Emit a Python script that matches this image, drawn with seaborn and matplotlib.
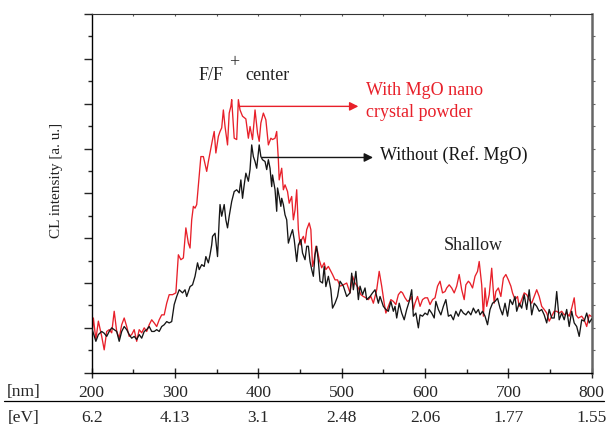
import numpy as np
import pandas as pd
import matplotlib
matplotlib.use("Agg")
import matplotlib.pyplot as plt
import matplotlib.transforms as mtransforms
from matplotlib.lines import Line2D
from matplotlib.ticker import MultipleLocator
import seaborn as sns

# ---------------- data ----------------
nm_ticks = [200, 300, 400, 500, 600, 700, 800]
ev_labels = ["6.2", "4.13", "3.1", "2.48", "2.06", "1.77", "1.55"]

black_nm = [200, 205, 208, 212, 215, 218, 221, 224, 227, 230, 233, 236, 239, 242, 245, 248, 251, 254, 257, 260,
            263, 266, 269, 272, 275, 278, 281, 284, 287, 290, 293, 296, 299, 302, 305, 309, 312, 314, 318, 321,
            324, 327, 329, 332, 335, 337, 340, 342, 344, 345, 348, 351, 353, 354, 356, 359, 361, 363, 365, 368,
            371, 374, 377, 379, 381, 383, 385, 388, 390, 392, 394, 396, 398, 401, 403, 405, 408, 410, 412, 414,
            416, 417, 420, 422, 423, 425, 427, 428, 430, 432, 434, 436, 439, 441, 443, 446, 448, 451, 453, 456,
            458, 460, 462, 464, 466, 468, 470, 472, 474, 477, 479, 481, 484, 487, 489, 492, 495, 498, 502, 506,
            510, 512, 514, 517, 520, 522, 525, 528, 530, 534, 537, 540, 544, 546, 550, 553, 556, 559, 562, 564,
            566, 569, 572, 575, 578, 581, 584, 586, 589, 592, 594, 597, 600, 603, 605, 608, 611, 613, 616, 619,
            622, 625, 628, 631, 634, 637, 640, 643, 646, 649, 652, 655, 658, 661, 664, 666, 669, 672, 675, 678,
            681, 684, 687, 690, 693, 696, 699, 702, 705, 708, 710, 713, 716, 719, 722, 725, 728, 731, 734, 737,
            740, 743, 746, 749, 752, 755, 758, 761, 764, 767, 770, 773, 776, 779, 782, 785, 788, 791, 794, 797,
            800]
black_int = [1.00, 0.70, 0.85, 0.92, 0.88, 0.81, 0.92, 1.00, 0.96, 0.92, 0.70, 0.92, 1.03, 0.96, 0.85, 0.77, 0.81, 0.74, 0.85, 0.77,
             0.92, 0.96, 1.03, 0.92, 0.92, 0.96, 0.92, 1.03, 1.07, 1.14, 1.11, 1.14, 1.52, 1.70, 1.85, 1.78, 1.85, 1.70, 1.92, 1.96,
             2.15, 2.45, 2.30, 2.41, 2.37, 2.59, 2.45, 2.63, 2.85, 3.04, 3.11, 2.59, 3.41, 3.75, 3.49, 3.75, 3.41, 3.23, 3.49, 3.82,
             4.04, 4.08, 4.01, 4.30, 3.89, 4.19, 4.45, 4.27, 4.53, 5.08, 4.82, 4.71, 4.56, 5.08, 4.82, 4.75, 4.71, 4.53, 4.75, 4.56,
             4.15, 4.41, 4.08, 3.60, 4.12, 3.93, 3.71, 3.89, 3.75, 3.52, 3.41, 2.89, 3.08, 3.19, 2.97, 2.48, 2.85, 2.97, 2.67, 2.52,
             2.82, 2.82, 2.48, 2.30, 2.15, 2.63, 2.82, 2.48, 2.04, 2.00, 2.37, 1.92, 2.15, 1.85, 1.44, 1.55, 1.70, 2.04, 1.93, 1.70,
             1.78, 2.22, 1.85, 2.26, 1.63, 1.93, 1.74, 1.89, 1.63, 1.70, 1.78, 1.85, 1.55, 1.70, 1.48, 1.41, 1.37, 1.59, 1.37, 1.48,
             1.22, 1.55, 1.33, 1.18, 1.41, 1.59, 1.85, 1.26, 1.33, 1.00, 1.29, 1.26, 1.33, 1.29, 1.41, 1.33, 1.22, 1.59, 1.41, 1.29,
             1.48, 1.63, 1.26, 1.29, 1.18, 1.37, 1.26, 1.41, 1.33, 1.29, 1.37, 1.29, 1.44, 1.33, 1.41, 1.29, 1.37, 1.26, 1.07, 1.41,
             1.55, 1.59, 1.66, 1.44, 1.29, 1.55, 1.26, 1.63, 1.52, 1.70, 1.37, 1.55, 1.44, 1.74, 1.41, 1.85, 1.29, 1.55, 1.48, 1.37,
             1.41, 1.29, 1.11, 1.41, 1.22, 1.22, 1.81, 1.18, 1.33, 1.18, 1.41, 1.03, 1.37, 1.11, 1.03, 0.81, 1.18, 1.15, 1.33, 1.11,
             1.20]

red_nm = [200, 202, 205, 208, 212, 215, 218, 221, 224, 227, 230, 233, 236, 239, 242, 245, 248, 251, 254, 257,
          260, 263, 266, 269, 272, 275, 278, 281, 284, 287, 290, 293, 297, 301, 304, 307, 310, 313, 316, 318,
          320, 322, 324, 326, 329, 331, 334, 338, 340, 343, 345, 347, 349, 352, 354, 356, 358, 360, 363, 365,
          367, 368, 371, 374, 376, 378, 381, 385, 388, 390, 393, 396, 399, 401, 403, 406, 409, 412, 415, 417,
          420, 422, 424, 425, 428, 430, 432, 435, 437, 440, 442, 444, 446, 448, 450, 452, 454, 456, 458, 461,
          463, 465, 467, 469, 471, 473, 476, 479, 481, 484, 487, 489, 492, 495, 498, 502, 506, 510, 513, 516,
          520, 523, 526, 529, 532, 535, 538, 542, 545, 548, 551, 553, 556, 559, 562, 565, 568, 571, 573, 576,
          579, 582, 584, 586, 588, 591, 594, 597, 600, 603, 606, 609, 612, 615, 618, 621, 624, 626, 629, 632,
          635, 638, 641, 644, 647, 649, 652, 654, 657, 660, 663, 665, 668, 670, 672, 674, 677, 680, 683, 685,
          688, 691, 694, 697, 700, 703, 705, 708, 711, 713, 716, 719, 722, 725, 728, 731, 734, 737, 740, 743,
          746, 749, 752, 755, 758, 761, 764, 767, 770, 773, 776, 779, 781, 784, 788, 791, 794, 797, 800]
red_int = [0.74, 1.22, 0.74, 1.15, 0.81, 0.51, 0.92, 0.96, 0.89, 1.37, 0.92, 0.77, 1.07, 1.22, 1.03, 0.81, 0.85, 0.96, 0.70, 0.96,
           0.89, 1.00, 0.92, 1.07, 1.18, 1.11, 1.03, 1.18, 1.29, 1.29, 1.55, 1.74, 1.74, 1.78, 2.63, 2.52, 2.56, 3.23, 2.89, 2.78,
           3.41, 3.71, 3.67, 3.75, 4.38, 4.82, 4.82, 4.49, 4.71, 5.01, 5.20, 5.38, 4.90, 5.27, 5.38, 5.46, 5.86, 5.49, 5.08, 5.79,
           5.94, 6.09, 5.23, 5.20, 6.09, 5.86, 5.72, 5.66, 5.23, 5.49, 5.20, 5.86, 5.34, 5.16, 5.57, 5.79, 5.64, 5.08, 5.23, 5.20,
           5.23, 5.38, 4.75, 4.30, 4.56, 4.08, 4.19, 4.04, 3.78, 3.93, 3.41, 3.63, 4.08, 3.19, 2.85, 2.97, 3.04, 2.89, 3.19, 3.34,
           3.19, 2.37, 2.52, 2.82, 2.71, 2.52, 2.34, 2.45, 2.30, 2.37, 2.26, 2.19, 2.07, 2.07, 1.93, 1.96, 2.00, 1.78, 2.15, 2.00,
           1.89, 1.74, 1.70, 1.67, 1.63, 1.70, 1.55, 1.85, 2.26, 1.93, 1.55, 1.33, 1.48, 1.63, 1.59, 1.52, 1.74, 1.81, 1.78, 1.67,
           1.59, 1.63, 1.70, 1.41, 1.55, 1.70, 1.48, 1.63, 1.67, 1.67, 1.52, 1.63, 1.67, 1.93, 2.04, 1.78, 1.81, 1.89, 1.96, 1.89,
           1.78, 1.93, 2.19, 1.85, 1.63, 1.96, 2.04, 2.00, 1.89, 2.15, 2.26, 2.48, 1.96, 1.26, 1.89, 1.48, 1.74, 2.33, 1.55, 1.81,
           1.89, 1.70, 2.11, 2.19, 2.07, 1.93, 1.78, 1.63, 1.70, 1.48, 1.63, 1.78, 1.74, 1.63, 1.55, 1.70, 1.85, 1.70, 1.48, 1.41,
           1.33, 1.15, 1.26, 1.37, 1.37, 1.33, 1.37, 1.29, 1.33, 1.26, 1.44, 1.67, 1.29, 1.22, 1.26, 1.18, 1.03, 1.29, 1.25]

RED = "#e8202a"
BLACK = "#161616"

# ---------------- figure ----------------
sns.set_style("white")
plt.rcParams["font.family"] = ["Liberation Serif", "DejaVu Serif"]
plt.rcParams["mathtext.fontset"] = "stix"

fig = plt.figure(figsize=(6.08, 4.34), dpi=100)
ax = fig.add_axes([91.7 / 608, 1 - 372.7 / 434, 500 / 608, 358.7 / 434])

df_black = pd.DataFrame({"nm": black_nm, "I": black_int})
df_red = pd.DataFrame({"nm": red_nm, "I": red_int})
sns.lineplot(data=df_black, x="nm", y="I", ax=ax, color=BLACK, lw=0.95, zorder=3)
sns.lineplot(data=df_red, x="nm", y="I", ax=ax, color=RED, lw=0.95, zorder=2)

ax.set_xlim(200, 800)
ax.set_ylim(0, 8)
ax.set_xlabel("")
ax.set_ylabel("")

# spines
for s in ["left", "bottom"]:
    ax.spines[s].set_color("black")
    ax.spines[s].set_linewidth(1.0)
ax.spines["top"].set_color("#333333")
ax.spines["top"].set_linewidth(0.8)
ax.spines["right"].set_color("#666666")
ax.spines["right"].set_linewidth(1.8)

# x ticks (bottom)
ax.set_xticks(nm_ticks)
ax.set_xticklabels([str(v) for v in nm_ticks])
ax.xaxis.set_minor_locator(MultipleLocator(50))
ax.tick_params(axis="x", which="major", direction="inout", length=7, width=1.0,
               labelsize=12.5, pad=5, bottom=True, top=False)
ax.tick_params(axis="x", which="minor", direction="in", length=3, width=1.0, bottom=True, top=False)

# y ticks (left, no labels)
ax.yaxis.set_major_locator(MultipleLocator(1))
ax.yaxis.set_minor_locator(MultipleLocator(0.5))
ax.tick_params(axis="y", which="major", direction="out", length=6, width=1.0, left=True, right=False, labelleft=False)
ax.tick_params(axis="y", which="minor", direction="out", length=3, width=1.0, left=True, right=False)

# top and right small ticks
secx = ax.secondary_xaxis("top")
secx.set_xticks(np.arange(250, 800, 50))
secx.set_xticklabels([])
secx.tick_params(direction="in", length=1.5, width=0.8, color="#555555")
secx.spines["top"].set_visible(False)
secy = ax.secondary_yaxis("right")
secy.set_yticks(np.arange(0.5, 8, 0.5))
secy.set_yticklabels([])
secy.tick_params(direction="out", length=2, width=0.8, color="#666666")
secy.spines["right"].set_visible(False)

# annotations
fs = 13
ax.text(327.6, 6.52, "F/F", fontsize=fs, color="#222222", va="baseline", ha="left")
ax.text(365.0, 6.91, "+", fontsize=fs, color="#222222", va="center", ha="left")
ax.text(384.8, 6.52, "center", fontsize=fs, color="#222222", va="baseline", ha="left")
ax.text(528.8, 6.20, "With MgO nano", fontsize=fs, color=RED, va="baseline", ha="left")
ax.text(528.8, 5.71, "crystal powder", fontsize=fs, color=RED, va="baseline", ha="left")
ax.text(546.0, 4.75, "Without (Ref. MgO)", fontsize=fs, color=BLACK, va="baseline", ha="left")
ax.text(622.8, 2.74, "Shallow", fontsize=fs, color="#222222", va="baseline", ha="left")

ax.annotate("", xy=(520, 5.94), xytext=(377, 5.94),
            arrowprops=dict(arrowstyle="-|>", color=RED, lw=1.0, mutation_scale=13,
                            shrinkA=0, shrinkB=0))
ax.annotate("", xy=(537.6, 4.80), xytext=(404, 4.80),
            arrowprops=dict(arrowstyle="-|>", color=BLACK, lw=1.0, mutation_scale=13,
                            shrinkA=0, shrinkB=0))

# y label
fig.text(56.7 / 608, 1 - 180 / 434, "CL intensity [a. u.]", rotation=90, fontsize=11,
         ha="center", va="center", color="#222222")

# unit rows below axis
fig.text(24 / 608, 1 - 392 / 434, "[nm]", fontsize=12.5, ha="center", va="center")
fig.text(24 / 608, 1 - 418.5 / 434, "[eV]", fontsize=12.5, ha="center", va="center")
blend = mtransforms.blended_transform_factory(ax.transData, fig.transFigure)
for x, lab in zip(nm_ticks, ev_labels):
    ax.text(x, 1 - 418.5 / 434, lab, transform=blend, fontsize=12.5, ha="center", va="center",
            clip_on=False)
fig.add_artist(Line2D([4 / 608, 604 / 608], [1 - 401 / 434, 1 - 401 / 434],
                      transform=fig.transFigure, color="black", lw=0.9))

fig.savefig("out.png", dpi=100)
